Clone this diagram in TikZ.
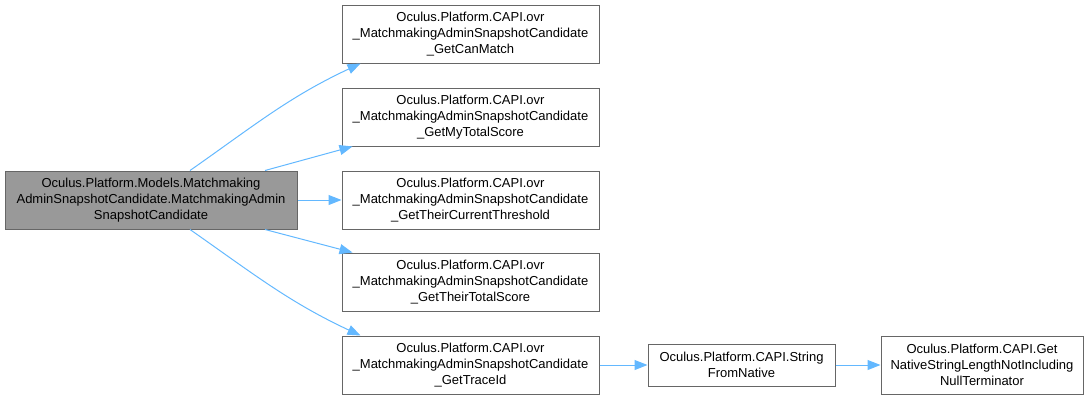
\documentclass[tikz,border=0pt]{standalone}
\usepackage{fontspec}
\setmainfont{Liberation Sans}
\usepackage{xcolor}
\definecolor{edgeBlue}{RGB}{99, 184, 255}
\definecolor{boxGray}{RGB}{153, 153, 153}
\definecolor{lineGray}{RGB}{102, 102, 102}
\usepackage{tikz}
\usetikzlibrary{positioning,arrows.meta}

\begin{document}
\begin{tikzpicture}[x=1pt, y=1pt,
  fn/.style={draw=lineGray, line width=1pt, rectangle, fill=white, align=center,
             font=\fontsize{13}{16}\selectfont, inner sep=0pt},
  call/.style={-{Triangle[length=13pt, width=10pt]}, draw=edgeBlue, line width=1pt}
]
\useasboundingbox (0,0) rectangle (1088,-400);
% caller
\node[fn, fill=boxGray, minimum width=292pt, minimum height=58pt] (main) at (151,-200)
  {Oculus.Platform.Models.Matchmaking\\AdminSnapshotCandidate.MatchmakingAdmin\\SnapshotCandidate};
% callees
\node[fn, minimum width=257pt, minimum height=58pt] (canmatch) at (470.5,-34)
  {Oculus.Platform.CAPI.ovr\\\_MatchmakingAdminSnapshotCandidate\\\_GetCanMatch};
\node[fn, minimum width=257pt, minimum height=58pt] (myscore) at (470.5,-117)
  {Oculus.Platform.CAPI.ovr\\\_MatchmakingAdminSnapshotCandidate\\\_GetMyTotalScore};
\node[fn, minimum width=257pt, minimum height=58pt] (threshold) at (470.5,-200)
  {Oculus.Platform.CAPI.ovr\\\_MatchmakingAdminSnapshotCandidate\\\_GetTheirCurrentThreshold};
\node[fn, minimum width=257pt, minimum height=58pt] (theirscore) at (470.5,-282)
  {Oculus.Platform.CAPI.ovr\\\_MatchmakingAdminSnapshotCandidate\\\_GetTheirTotalScore};
\node[fn, minimum width=257pt, minimum height=58pt] (traceid) at (470.5,-365)
  {Oculus.Platform.CAPI.ovr\\\_MatchmakingAdminSnapshotCandidate\\\_GetTraceId};
\node[fn, minimum width=187pt, minimum height=42pt] (fromnative) at (741.5,-365)
  {Oculus.Platform.CAPI.String\\FromNative};
\node[fn, minimum width=202pt, minimum height=58pt] (strlen) at (982,-365)
  {Oculus.Platform.CAPI.Get\\NativeStringLengthNotIncluding\\NullTerminator};
% calls
\draw[call] ([xshift=39pt]main.north) to[out=35, in=205] ([xshift=-110pt]canmatch.south);
\draw[call] ([xshift=114pt]main.north) -- ([xshift=-118pt]myscore.south);
\draw[call] (main.east) -- (threshold.west);
\draw[call] ([xshift=114pt]main.south) -- ([xshift=-118pt]theirscore.north);
\draw[call] ([xshift=39pt]main.south) to[out=-35, in=155] ([xshift=-110pt]traceid.north);
\draw[call] (traceid.east) -- (fromnative.west);
\draw[call] (fromnative.east) -- (strlen.west);
\end{tikzpicture}
\end{document}
